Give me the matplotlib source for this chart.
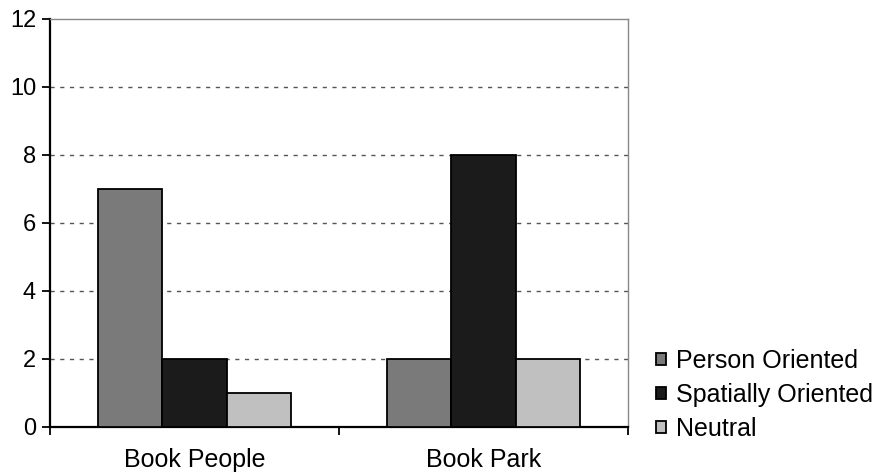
import numpy as np
import matplotlib.pyplot as plt

plt.rcParams['font.family'] = ['Liberation Sans', 'DejaVu Sans']

# counts per book and orientation
books = ['Book People', 'Book Park']
series = ['Person Oriented', 'Spatially Oriented', 'Neutral']
person = [7, 2]
spatial = [2, 8]
neutral = [1, 2]
colors = ['#7a7a7a', '#1b1b1b', '#c0c0c0']

fig = plt.figure(figsize=(8.8, 4.73), dpi=100)
ax = fig.add_axes([0.0568, 0.0973, 0.6568, 0.8627])

x = np.arange(len(books))
w = 0.222
for i, (vals, name) in enumerate(zip([person, spatial, neutral], series)):
    ax.bar(x + (i - 1) * w, vals, w, color=colors[i], edgecolor='black',
           linewidth=1.3, label=name, zorder=3)

ax.set_xlim(-0.5, 1.5)
ax.set_ylim(0, 12)
ax.set_yticks(range(0, 13, 2))
for y in range(2, 12, 2):
    ax.axhline(y, color='#555555', linestyle=(0, (3, 4)), linewidth=1.0, zorder=1)

# category labels without ticks, separators as minor ticks
ax.set_xticks(x)
ax.set_xticklabels(books, fontsize=18)
ax.tick_params(axis='x', which='major', length=0, pad=15)
ax.set_xticks([-0.5, 0.5, 1.5], minor=True)
ax.tick_params(axis='x', which='minor', length=6, width=1.3, direction='out')
ax.tick_params(axis='y', length=6, width=1.3, labelsize=17, pad=4)

for s in ['left', 'bottom']:
    ax.spines[s].set_linewidth(1.6)
    ax.spines[s].set_color('black')
for s in ['top', 'right']:
    ax.spines[s].set_linewidth(1.0)
    ax.spines[s].set_color('#888888')

fig.legend(loc='lower left', bbox_to_anchor=(0.746, 0.068), frameon=False,
           fontsize=18, handlelength=0.4, handleheight=0.4,
           handletextpad=0.4, labelspacing=0.4, borderpad=0,
           borderaxespad=0)

fig.savefig('out.png', dpi=100)
